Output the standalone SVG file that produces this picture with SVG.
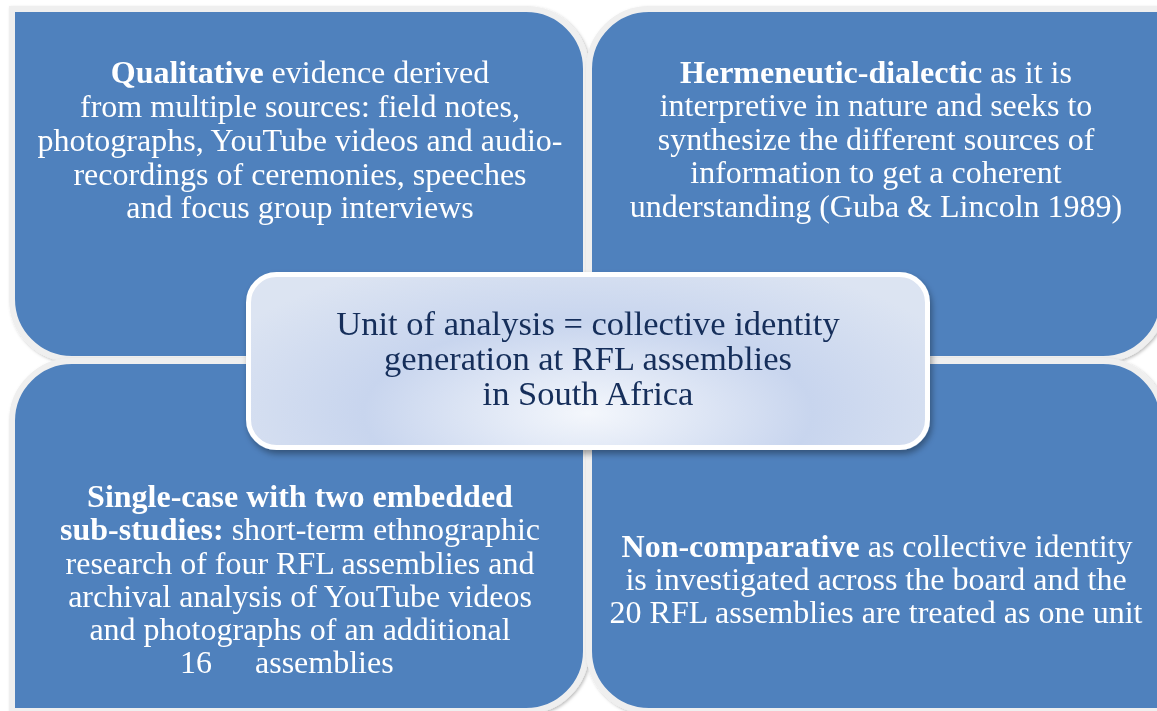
<svg xmlns="http://www.w3.org/2000/svg" width="1157" height="711" viewBox="0 0 1157 711">
  <defs>
    <filter id="qs" x="-5%" y="-5%" width="110%" height="110%">
      <feDropShadow dx="1.5" dy="1.5" stdDeviation="1.5" flood-color="#000" flood-opacity="0.25"/>
    </filter>
    <filter id="cs" x="-5%" y="-10%" width="110%" height="125%">
      <feDropShadow dx="2" dy="4" stdDeviation="3" flood-color="#000" flood-opacity="0.35"/>
    </filter>
    <radialGradient id="cg" cx="0.5" cy="0.8" r="0.6" gradientTransform="translate(0.5 0.8) scale(1 1.6) translate(-0.5 -0.8)">
      <stop offset="0" stop-color="#f4f7fc"/>
      <stop offset="0.55" stop-color="#c8d5ee"/>
      <stop offset="1" stop-color="#dce4f2"/>
    </radialGradient>
    <style>
      .quad { fill: #4f81bd; stroke: #efefef; stroke-width: 6; }
      .t { font-family: "Liberation Serif", "Times New Roman", serif; font-size: 32px; fill: #ffffff; text-anchor: middle; }
      .s { text-anchor: start; }
      .b { font-weight: bold; }
      .c { font-family: "Liberation Serif", "Times New Roman", serif; font-size: 34.5px; fill: #142e5a; text-anchor: middle; }
    </style>
  </defs>
  <rect width="1157" height="711" fill="#ffffff"/>

  <g id="quad-tl" filter="url(#qs)">
    <path class="quad" d="M12,9 H526 A60,60 0 0 1 586,69 V359 H72 A60,60 0 0 1 12,299 Z"/>
    <text class="t" x="300" y="83"><tspan class="b">Qualitative</tspan> evidence derived</text>
    <text class="t" x="300" y="117">from multiple sources: field notes,</text>
    <text class="t" x="300" y="151">photographs, YouTube videos and audio-</text>
    <text class="t" x="300" y="185">recordings of ceremonies, speeches</text>
    <text class="t" x="300" y="218">and focus group interviews</text>
  </g>

  <g id="quad-tr" filter="url(#qs)">
    <path class="quad" d="M649,9 H1163 V299 A60,60 0 0 1 1103,359 H589 V69 A60,60 0 0 1 649,9 Z"/>
    <text class="t" x="876" y="83"><tspan class="b">Hermeneutic-dialectic</tspan> as it is</text>
    <text class="t" x="876" y="116">interpretive in nature and seeks to</text>
    <text class="t" x="876" y="150">synthesize the different sources of</text>
    <text class="t" x="876" y="183">information to get a coherent</text>
    <text class="t" x="876" y="217">understanding (Guba &amp; Lincoln 1989)</text>
  </g>

  <g id="quad-bl" filter="url(#qs)">
    <path class="quad" d="M72,361 H586 V651 A60,60 0 0 1 526,711 H12 V421 A60,60 0 0 1 72,361 Z"/>
    <text class="t" x="300" y="507"><tspan class="b">Single-case with two embedded</tspan></text>
    <text class="t" x="300" y="540"><tspan class="b">sub-studies:</tspan> short-term ethnographic</text>
    <text class="t" x="300" y="574">research of four RFL assemblies and</text>
    <text class="t" x="300" y="607">archival analysis of YouTube videos</text>
    <text class="t" x="300" y="640">and photographs of an additional</text>
    <text class="t s" y="673"><tspan x="180">16</tspan><tspan x="255">assemblies</tspan></text>
  </g>

  <g id="quad-br" filter="url(#qs)">
    <path class="quad" d="M589,361 H1103 A60,60 0 0 1 1163,421 V711 H649 A60,60 0 0 1 589,651 Z"/>
    <text class="t" x="877" y="557"><tspan class="b">Non-comparative</tspan> as collective identity</text>
    <text class="t" x="876" y="590">is investigated across the board and the</text>
    <text class="t" x="876" y="623">20 RFL assemblies are treated as one unit</text>
  </g>

  <g id="center" filter="url(#cs)">
    <rect x="248.5" y="274.5" width="679" height="173" rx="28" ry="28" fill="url(#cg)" stroke="#ffffff" stroke-width="5"/>
    <text class="c" x="588" y="335">Unit of analysis = collective identity</text>
    <text class="c" x="588" y="370">generation at RFL assemblies</text>
    <text class="c" x="588" y="405">in South Africa</text>
  </g>

  <g id="connectors"/>
</svg>
